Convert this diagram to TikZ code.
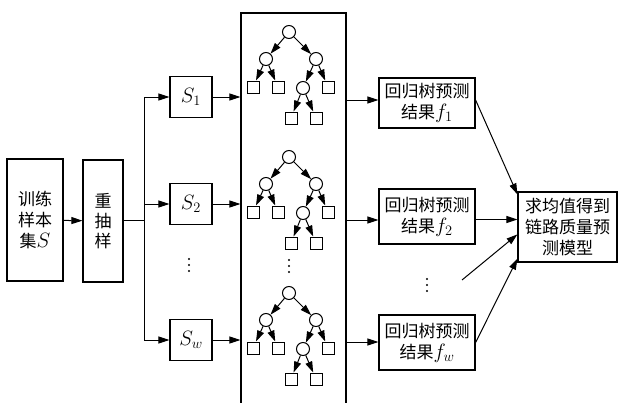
\documentclass[tikz,border=0pt]{standalone}
\usepackage{amsmath}
\usepackage{fontspec}
\newfontfamily\cjk{Noto Sans CJK SC}
\usetikzlibrary{arrows.meta,positioning}

% larger italic symbols to sit with the 17pt CJK text
\newcommand{\bigsym}[1]{{\fontsize{22}{22}\selectfont$#1$}}

\begin{document}
\begin{tikzpicture}[x=1pt,y=-1pt,line width=1pt,>={Triangle[length=11pt,width=7pt]},
  box/.style={draw,line width=1.2pt,align=center,inner sep=0pt,
    font=\cjk\fontsize{17}{21}\selectfont},
  inner/.style={circle,draw,minimum size=13pt,inner sep=0pt},
  leaf/.style={draw,minimum size=12pt,inner sep=0pt}]
\useasboundingbox (0,0) rectangle (619,402);
% input data and resampling
\node[box,minimum width=56pt,minimum height=122pt] (train) at (35,220) {训练\\样本\\集\bigsym{S}};
\node[box,minimum width=40pt,minimum height=122pt,font=\cjk\fontsize{17}{20}\selectfont] (resample) at (103,221) {重\\抽\\样};
\coordinate (split) at (144,220);
% bootstrap samples
\node[box,minimum width=42pt,minimum height=41pt] (s1) at (191,97) {\bigsym{S_1}};
\node[box,minimum width=42pt,minimum height=41pt] (s2) at (191,204) {\bigsym{S_2}};
\node[box,minimum width=42pt,minimum height=41pt] (sw) at (191,340) {\bigsym{S_w}};
\coordinate (sdots) at (189,265);
% forest of regression trees
\node[draw,line width=1.2pt,minimum width=105pt,minimum height=394pt] (forest) at (293.5,210) {};
\foreach \t/\ry in {1/32,2/157,3/293}{
  \node[inner] (t\t-root) at (289,\ry) {};
  \node[inner] (t\t-l) at (266,\ry+27) {};
  \node[inner] (t\t-r) at (316,\ry+27) {};
  \node[leaf] (t\t-ll) at (253,\ry+55) {};
  \node[leaf] (t\t-lr) at (278,\ry+55) {};
  \node[inner] (t\t-rl) at (303,\ry+56) {};
  \node[leaf] (t\t-rr) at (328,\ry+55) {};
  \node[leaf] (t\t-rll) at (291,\ry+86) {};
  \node[leaf] (t\t-rlr) at (316,\ry+86) {};
  \draw[->] (t\t-root) -- (t\t-l);
  \draw[->] (t\t-root) -- (t\t-r);
  \draw[->] (t\t-l) -- (t\t-ll);
  \draw[->] (t\t-l) -- (t\t-lr);
  \draw[->] (t\t-r) -- (t\t-rl);
  \draw[->] (t\t-r) -- (t\t-rr);
  \draw[->] (t\t-rl) -- (t\t-rll);
  \draw[->] (t\t-rl) -- (t\t-rlr);
}
\coordinate (tdots) at (289,266);
% tree outputs
\node[box,minimum width=96pt,minimum height=50pt] (r1) at (427,103) {回归树预测\\结果\bigsym{f_1}};
\node[box,minimum width=96pt,minimum height=55pt] (r2) at (427,216.5) {回归树预测\\结果\bigsym{f_2}};
\node[box,minimum width=96pt,minimum height=55pt] (rw) at (427,342.5) {回归树预测\\结果\bigsym{f_w}};
\coordinate (rdots) at (427,285);
\node[box,minimum width=99pt,minimum height=70pt] (avg) at (567.5,227) {求均值得到\\链路质量预\\测模型};
\coordinate (more) at (462,280);
% vertical ellipses
\foreach \c in {sdots,tdots,rdots}
  \foreach \d in {-6,0,6}
    \fill ([yshift=\d pt]\c) circle (1.2pt);
% connectors
\draw[->] (train) -- (resample);
\draw (resample.east |- split) -- (split);
\draw (s1.west -| split) -- (sw.west -| split);
\draw[->] (s1.west -| split) -- (s1);
\draw[->] (s2.west -| split) -- (s2);
\draw[->] (sw.west -| split) -- (sw);
\draw[->] (s1) -- (s1 -| forest.west);
\draw[->] (s2) -- (s2 -| forest.west);
\draw[->] (sw) -- (sw -| forest.west);
\draw[->] (forest.east |- 0,100) -- (r1.west |- 0,100);
\draw[->] (forest.east |- 0,220) -- (r2.west |- 0,220);
\draw[->] (forest.east |- 0,342) -- (rw.west |- 0,342);
\draw[->] ([yshift=3pt]r1.east) -- ([yshift=-3pt]avg.north west);
\draw[->] ([yshift=-3pt]r2.east) -- (avg.west |- 0,219.5);
\draw[->] (more) -- ([yshift=-43pt]avg.north west);
\draw[->] (rw.east) -- ([yshift=4pt]avg.south west);
\end{tikzpicture}
\end{document}
